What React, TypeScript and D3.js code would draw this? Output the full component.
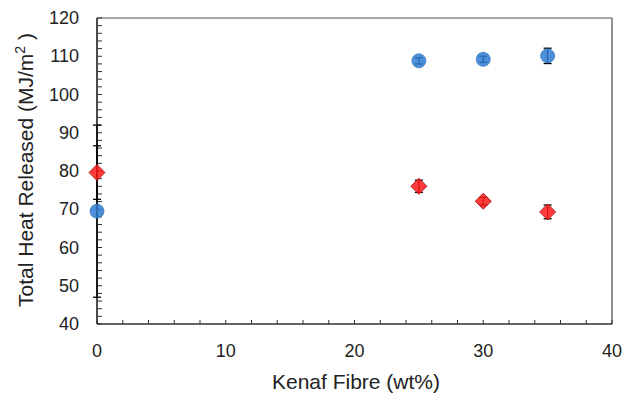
import React from "react";
import * as d3 from "d3";

const fibre = [0, 25, 30, 35];
const blueValues = [69.5, 108.8, 109.2, 110.1];
const blueErrors = [22.5, 0.8, 0.8, 2.0];
const redValues = [79.6, 76.0, 72.1, 69.3];
const redErrors = [7.0, 1.6, 1.0, 1.8];
const xTicks = [0, 10, 20, 30, 40];
const yTicks = [40, 50, 60, 70, 80, 90, 100, 110, 120];

const W = 631;
const H = 393;
const left = 97;
const right = 612;
const top = 18;
const bottom = 324;

export default function App() {
  const x = d3.scaleLinear().domain([0, 40]).range([left, right]);
  const y = d3.scaleLinear().domain([40, 120]).range([bottom, top]);
  const minorX = d3.range(0, 40.01, 2);
  const minorY = d3.range(40, 120.01, 2);
  const font = "'Liberation Sans', Arial, sans-serif";

  const errBar = (xv: number, v: number, e: number, key: string, cap: number) => (
    <g key={key} stroke="#000" strokeWidth={1.3}>
      <line x1={x(xv)} x2={x(xv)} y1={y(v - e)} y2={y(v + e)} />
      <line x1={x(xv) - cap} x2={x(xv) + cap} y1={y(v - e)} y2={y(v - e)} />
      <line x1={x(xv) - cap} x2={x(xv) + cap} y1={y(v + e)} y2={y(v + e)} />
    </g>
  );

  return (
    <svg width={W} height={H} style={{ position: "absolute", left: 0, top: 0, background: "#fff" }}>
      {/* frame */}
      <line x1={left} x2={right} y1={top} y2={top} stroke="#888" strokeWidth={1.3} />
      <line x1={right} x2={right} y1={top} y2={bottom} stroke="#555" strokeWidth={1.3} />
      <line x1={left} x2={right} y1={bottom} y2={bottom} stroke="#333" strokeWidth={1.3} />
      <line x1={left} x2={left} y1={top} y2={bottom} stroke="#111" strokeWidth={1.5} />
      {/* ticks */}
      {minorX.map((t) => (
        <line key={"xt" + t} x1={x(t)} x2={x(t)} y1={bottom} y2={bottom - 4} stroke="#333" strokeWidth={1} />
      ))}
      {minorY.map((t) => (
        <line key={"yt" + t} x1={left} x2={left + 5} y1={y(t)} y2={y(t)} stroke="#333" strokeWidth={1} />
      ))}
      {xTicks.map((t) => (
        <text key={"xl" + t} x={x(t)} y={bottom + 33} textAnchor="middle" fontFamily={font} fontSize={18} fill="#222">
          {t}
        </text>
      ))}
      {yTicks.map((t) => (
        <text key={"yl" + t} x={left - 18} y={y(t) + 6} textAnchor="end" fontFamily={font} fontSize={18} fill="#222">
          {t}
        </text>
      ))}
      {/* error bars */}
      {fibre.map((f, i) => errBar(f, blueValues[i], blueErrors[i], "be" + i, 4))}
      {fibre.map((f, i) => errBar(f, redValues[i], redErrors[i], "re" + i, 4))}
      {/* markers */}
      {fibre.map((f, i) => (
        <circle key={"b" + i} cx={x(f)} cy={y(blueValues[i])} r={7} fill="#2f7dd1" fillOpacity={0.85} stroke="#3a78c0" strokeWidth={0.8} />
      ))}
      {fibre.map((f, i) => {
        const cx = x(f);
        const cy = y(redValues[i]);
        const s = 8;
        return (
          <path
            key={"r" + i}
            d={`M${cx},${cy - s}L${cx + s},${cy}L${cx},${cy + s}L${cx - s},${cy}Z`}
            fill="#ff1a1a"
            fillOpacity={0.85}
            stroke="#b02020"
            strokeWidth={1}
          />
        );
      })}
      {/* titles */}
      <text x={356} y={389} textAnchor="middle" fontFamily={font} fontSize={21} fill="#222">
        Kenaf Fibre (wt%)
      </text>
      <text
        transform={`translate(33, 170) rotate(-90)`}
        textAnchor="middle"
        fontFamily={font}
        fontSize={21}
        fill="#222"
      >
        Total Heat Released (MJ/m
        <tspan dy={-8} fontSize={14}>2</tspan>
        <tspan dy={8}> )</tspan>
      </text>
    </svg>
  );
}
